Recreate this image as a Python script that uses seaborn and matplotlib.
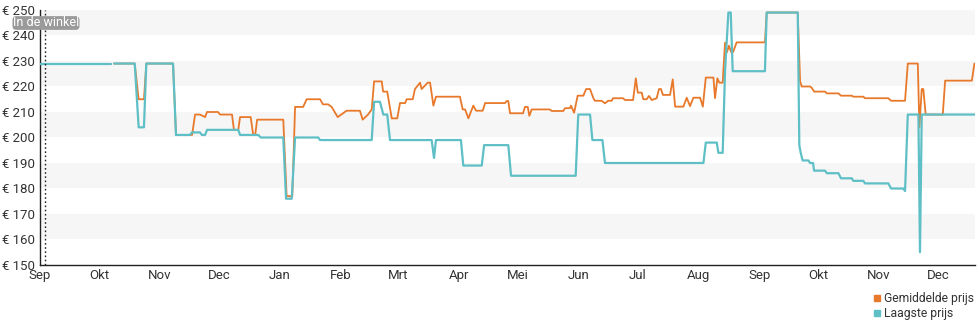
import numpy as np
import pandas as pd
import matplotlib
matplotlib.use("Agg")
import matplotlib.pyplot as plt
from matplotlib.lines import Line2D
import seaborn as sns

# ---- data -------------------------------------------------------------
start = pd.Timestamp("2023-09-01")

# Laagste prijs: (days since start, price); None splits the line
low_days = [0, 36.1, None, 37.7, 48.2, 50.2, 52.9, 54.1, 67.7, 69.2, 76.2, 77.4, 81.4,
            82.4, 84.0, 85.0, 100.9, 101.8, 111.1, 112.3, 123.8, 125.2, 128.1, 129.8,
            141.6, 142.5, 168.8, 170.0, 173.0, 174.7, 176.7, 178.1, 199.3, 200.5, 201.5,
            214.2, 215.4, 224.8, 226.0, 238.3, 239.7, 272.6, 273.9, 279.9, 281.1, 286.2,
            287.5, 337.6, 338.8, 344.4, 345.2, 347.4, 348.6, 350.3, 351.5, 352.5, 368.9,
            369.8, 385.6, 386.4, 387.1, 388.1, 391.0, 391.9, 393.4, 393.9, 399.5, 400.4,
            406.3, 407.6, 413.1, 413.9, 419.0, 419.8, 431.7, 433.1, 439.3, 440.2, 441.6,
            447.0, 447.8, 448.7, 475.8]
low_prices = [229, 229, None, 229, 229, 204, 204, 229, 229, 201, 201, 202, 202,
              201, 201, 203, 203, 201, 201, 200, 200, 176, 176, 200,
              200, 199, 199, 214, 214, 209, 209, 199, 199, 192, 199,
              199, 189, 189, 197, 197, 185, 185, 209, 209, 199, 199,
              190, 190, 198, 198, 194, 194, 226, 249, 249, 226, 226,
              249, 249, 197, 194, 191, 191, 190, 190, 187, 187, 186,
              186, 184, 184, 183, 183, 182, 182, 180, 180, 179, 209,
              209, 155, 209, 209]

# Gemiddelde prijs
avg_days = [0, 36.1, None, 37.7, 48.2, 50.2, 52.9, 54.1, 67.7, 69.2, 77.4, 78.9, 81.4,
            84.0, 85.0, 90.6, 91.6, 97.7, 98.7, 100.9, 101.8, 107.2, 108.5, 109.5, 110.5,
            123.8, 125.5, 128.4, 129.8, 133.9, 135.7, 142.5, 144.0, 146.6, 148.4, 151.5,
            156.0, 162.8, 164.2, 166.9, 168.8, 170.0, 173.9, 174.6, 176.7, 179.0, 181.8,
            183.2, 185.8, 186.6, 189.7, 190.8, 193.4, 194.2, 197.3, 198.5, 200.2, 201.5,
            213.7, 215.1, 216.3, 218.0, 220.5, 221.9, 225.3, 226.5, 236.6, 237.5, 238.3,
            239.2, 245.8, 246.8, 248.2, 249.0, 250.2, 259.5, 260.4, 266.3, 267.2, 269.7,
            270.2, 271.8, 273.6, 276.5, 277.9, 279.9, 281.6, 282.4, 285.8, 287.5, 289.1,
            290.9, 291.6, 296.7, 297.7, 301.8, 303.2, 304.2, 306.2, 307.0, 308.7, 309.9,
            311.3, 313.8, 315.0, 316.0, 317.0, 320.6, 322.0, 323.2, 327.4, 329.1, 330.8,
            332.5, 335.9, 337.3, 338.8, 342.7, 343.5, 344.7, 345.7, 347.4, 348.6, 349.6,
            350.6, 351.7, 352.7, 354.5, 368.9, 369.8, 385.6, 386.8, 387.6, 391.9, 392.9,
            393.9, 399.5, 400.4, 406.3, 407.6, 413.1, 413.9, 419.0, 419.8, 431.7, 433.1,
            440.2, 441.6, 446.7, 447.5, 448.7, 449.5, 450.7, 459.4, 460.6, 474.2, 475.5]
avg_prices = [229, 229, None, 229, 229, 215, 215, 229, 229, 201, 201, 209, 209,
              208, 210, 210, 209, 209, 203, 203, 208, 208, 201, 201, 207,
              207, 177, 177, 212, 212, 215, 215, 213, 213, 212, 208,
              210.5, 210.5, 207, 209, 211, 222, 222, 218, 218, 207.5, 207.5,
              213.5, 213.5, 215, 215, 219, 221.5, 219, 221.5, 221.5, 212.5, 216,
              216, 211, 211, 207.5, 212.5, 210.5, 210.5, 213.5, 213.5, 214.3, 214.3,
              209.5, 209.5, 212, 212, 208.5, 211, 211, 210.4, 210.4, 211.5, 211.5,
              212.5, 209.7, 216.4, 216.4, 219, 219, 215.4, 214.4, 214.4, 213.4, 214.4,
              214.4, 215.4, 215.4, 214.7, 214.7, 223.2, 217.6, 217.6, 215, 215, 216.3,
              214.7, 215.4, 219, 219, 216.7, 216.7, 222.8, 212.1, 212.1, 215.6, 212.3,
              215.6, 215.6, 212.1, 223.5, 223.5, 215.4, 223.2, 221.5, 221.5, 237.2, 233.5,
              236, 233.5, 233.5, 237.3, 237.3, 249, 249, 222, 220, 220, 219.3,
              218, 218, 217.3, 217.3, 216.4, 216.4, 216, 216, 215.4, 215.4, 214.4,
              214.4, 229, 229, 204, 219, 219, 209, 209, 222.3, 222.3, 229]

y_ticks = [150, 160, 170, 180, 190, 200, 210, 220, 230, 240, 250]
month_labels = ["Sep", "Okt", "Nov", "Dec", "Jan", "Feb", "Mrt", "Apr",
                "Mei", "Jun", "Jul", "Aug", "Sep", "Okt", "Nov", "Dec"]
series_names = ["Gemiddelde prijs", "Laagste prijs"]
series_colors = ["#e8792b", "#5fbfc6"]


def to_segments(days, prices):
    """Split a day/price list into frames; None starts a new line segment."""
    segments, rows = [], []
    for d, p in zip(days, prices):
        if d is None:
            segments.append(pd.DataFrame(rows, columns=["date", "price"]))
            rows = []
            continue
        rows.append((start + pd.Timedelta(days=d), p))
    segments.append(pd.DataFrame(rows, columns=["date", "price"]))
    return segments


# ---- figure -----------------------------------------------------------
sns.set_style("white")
plt.rcParams["font.family"] = ["Roboto", "DejaVu Sans"]

fig = plt.figure(figsize=(9.8, 3.25), dpi=100)
ax = fig.add_axes([40 / 980, 1 - 265 / 325, 935 / 980, 255 / 325])

# alternating horizontal bands
for lo, hi in zip(y_ticks[1::2], y_ticks[2::2]):
    ax.axhspan(lo, hi, color="#f6f6f6", zorder=0, lw=0)

# average price first; the slightly wider lowest-price line covers it where equal
for seg in to_segments(avg_days, avg_prices):
    sns.lineplot(data=seg, x="date", y="price", estimator=None, sort=False,
                 color=series_colors[0], linewidth=1.3, ax=ax, zorder=3)
for seg in to_segments(low_days, low_prices):
    sns.lineplot(data=seg, x="date", y="price", estimator=None, sort=False,
                 color=series_colors[1], linewidth=1.6, ax=ax, zorder=6)

# "in de winkel" marker
shop_day = start + pd.Timedelta(days=2.7)
ax.axvline(shop_day, color="#222222", linestyle=(0, (1.2, 1.8)), linewidth=1.0, zorder=7)

end = start + pd.Timedelta(days=475.8)
ax.set_xlim(start, end)
ax.set_ylim(y_ticks[0], y_ticks[-1])

ax.set_yticks(y_ticks)
ax.set_yticklabels([f"€ {v}" for v in y_ticks])
months = pd.date_range(start, end, freq="MS")
ax.set_xticks(months)
ax.set_xticklabels(month_labels[:len(months)])

ax.set_xlabel("")
ax.set_ylabel("")
for side in ("top", "right"):
    ax.spines[side].set_visible(False)
for side in ("left", "bottom"):
    ax.spines[side].set_color("#222222")
    ax.spines[side].set_linewidth(1.0)

ax.tick_params(axis="y", direction="out", length=3, width=1, color="#222222",
               labelsize=9.5, labelcolor="#333333", pad=0.5)
ax.tick_params(axis="x", direction="inout", length=6, width=1, color="#222222",
               labelsize=9.5, labelcolor="#333333", pad=0)
ax.grid(False)

# label box at top left
fig.text(46 / 980, 1 - 23 / 325, "In de winkel", ha="center", va="center",
         fontsize=9, color="white", zorder=10,
         bbox=dict(boxstyle="round,pad=0.03,rounding_size=0.3",
                   facecolor="#9a9a9a", edgecolor="none"))

# legend
handles = [Line2D([], [], marker="s", linestyle="", markersize=5,
                  markerfacecolor=c, markeredgecolor=c) for c in series_colors]
fig.legend(handles, series_names, loc="lower right",
           bbox_to_anchor=(981 / 980, -2 / 325), frameon=False, fontsize=8.7,
           handlelength=0.6, handletextpad=0.3, labelspacing=0.15,
           borderpad=0.1, labelcolor="#333333")

fig.savefig("out.png", dpi=100)
